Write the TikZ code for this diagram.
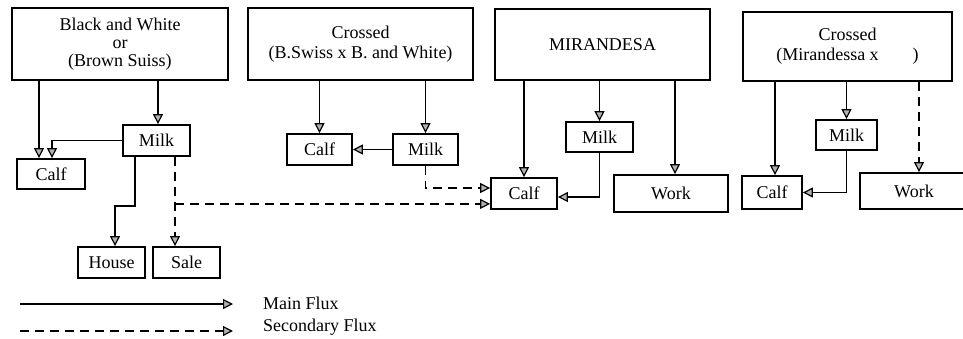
\documentclass[tikz,border=0pt]{standalone}
\usepackage{fontspec}
\setmainfont{Liberation Serif}
\usetikzlibrary{arrows.meta}
\begin{document}
\begin{tikzpicture}[x=1pt,y=-1pt,
  box/.style={draw, line width=1.8pt, inner sep=0pt, align=center,
    font=\fontsize{18}{18}\selectfont},
  flow/.style={line width=1.4pt, -{Triangle[width=10pt,length=10pt,fill=gray!60,line width=1.2pt]}},
  sflow/.style={flow, dash pattern=on 9pt off 6pt},
  lbl/.style={font=\fontsize{18}{20}\selectfont, inner sep=0pt, anchor=west}]
\useasboundingbox (0,0) rectangle (963,338);
\clip (0,0) rectangle (963,338);

% top boxes
\node[box, minimum width=216pt, minimum height=72pt] (bw) at (120,44) {Black and White\\or\\(Brown Suiss)};
\node[box, minimum width=225pt, minimum height=72pt, font=\fontsize{18}{20}\selectfont] (cr1) at (360.5,44) {Crossed\\(B.Swiss x B. and White)};
\node[box, minimum width=215pt, minimum height=71pt] (mir) at (602.5,44.5) {MIRANDESA};
\node[box, minimum width=209pt, minimum height=69pt, font=\fontsize{18}{20}\selectfont] (cr2) at (847.5,46.5) {Crossed\\(Mirandessa x\hspace{34pt})};

% group 1
\node[box, minimum width=68pt, minimum height=30pt] (calf1) at (51,174) {Calf};
\node[box, minimum width=67pt, minimum height=31pt] (milk1) at (156.5,140.5) {Milk};
\node[box, minimum width=67pt, minimum height=31pt] (house) at (111.5,262.5) {House};
\node[box, minimum width=67pt, minimum height=31pt] (sale) at (186.5,262.5) {Sale};
% group 2
\node[box, minimum width=65pt, minimum height=31pt] (calf2) at (319.5,149.5) {Calf};
\node[box, minimum width=65pt, minimum height=31pt] (milk2) at (425.5,149.5) {Milk};
% group 3
\node[box, minimum width=66pt, minimum height=31pt] (calf3) at (524,193.5) {Calf};
\node[box, minimum width=67pt, minimum height=30pt] (milk3) at (599.5,137) {Milk};
\node[box, minimum width=114pt, minimum height=37pt] (work3) at (671,193.5) {Work};
% group 4
\node[box, minimum width=60pt, minimum height=33pt] (calf4) at (772,192.5) {Calf};
\node[box, minimum width=61pt, minimum height=30pt] (milk4) at (846.5,135) {Milk};
\node[box, minimum width=108pt, minimum height=36pt] (work4) at (914,191) {Work};

% connectors group 1
\draw[flow] ([xshift=-81pt]bw.south) -- ([xshift=-81pt]bw.south |- calf1.north);
\draw[flow] ([xshift=38pt]bw.south) -- ([xshift=38pt]bw.south |- milk1.north);
\draw[flow] (milk1.west) -| ([xshift=1pt]calf1.north);
\draw[flow] ([xshift=-21.5pt]milk1.south) -- ++(0,49) -| ([xshift=3.5pt]house.north);
\draw[sflow] ([xshift=18.5pt]milk1.south) -- ([xshift=18.5pt]milk1.south |- sale.north);
\path ([xshift=18.5pt]milk1.south) ++(0,47) coordinate (br);
\draw[sflow] (br) -- (br -| calf3.west);

% connectors group 2
\draw[flow] (cr1.south -| calf2) -- (calf2.north);
\draw[flow] (cr1.south -| milk2) -- (milk2.north);
\draw[flow] (milk2.west) -- (calf2.east);
\draw[sflow] (milk2.south) |- ([yshift=5.5pt]calf3.west);

% connectors group 3
\draw[flow] (mir.south -| calf3) -- (calf3.north);
\draw[flow] (mir.south -| milk3) -- (milk3.north);
\draw[flow] ([xshift=4pt]work3.north |- mir.south) -- ([xshift=4pt]work3.north);
\draw[flow] (milk3.south) |- ([yshift=-3.5pt]calf3.east);

% connectors group 4
\draw[flow] ([xshift=3pt]calf4.north |- cr2.south) -- ([xshift=3pt]calf4.north);
\draw[flow] (cr2.south -| milk4) -- (milk4.north);
\draw[flow] (milk4.south) |- (calf4.east);
\draw[sflow] ([xshift=5pt]work4.north |- cr2.south) -- ([xshift=5pt]work4.north);

% legend
\coordinate (l1s) at (20,304);
\coordinate (l1e) at (233,304);
\coordinate (l2s) at (20,331);
\coordinate (l2e) at (233,331);
\draw[flow] (l1s) -- (l1e);
\draw[sflow] (l2s) -- (l2e);
\node[lbl] (main) at (263,303) {Main Flux};
\node[lbl] (sec) at (263,327) {Secondary Flux};
\end{tikzpicture}
\end{document}
